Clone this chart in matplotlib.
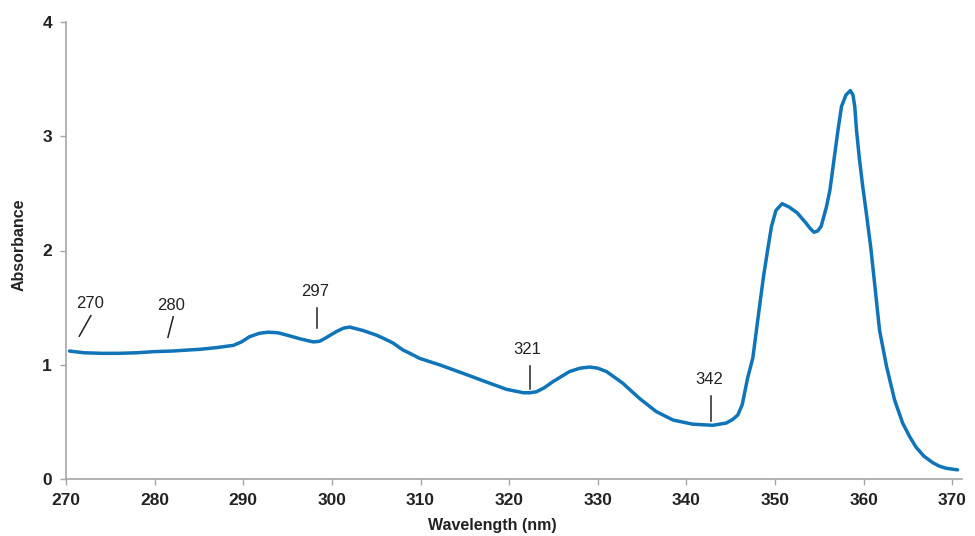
import matplotlib
matplotlib.use("Agg")
import matplotlib.pyplot as plt

wavelength = [270.4, 272, 274, 276, 278, 280, 282, 284, 285.1, 287, 288.9, 289.8, 290.7, 291.8,
              292.8, 293.9, 294.9, 296.5, 297.9, 298.6, 299.2, 300.5, 301.3, 302.0, 303.5, 305.0,
              306.0, 306.9, 308.0, 308.8, 309.9, 312.2, 314.8, 317.4, 319.7, 321.6, 322.4, 323.1,
              324.0, 324.9, 326.8, 328.0, 329.1, 330.0, 331.0, 332.8, 334.7, 336.6, 338.5, 340.7,
              343.0, 344.5, 345.2, 345.8, 346.3, 346.9, 347.5, 348.1, 348.7, 349.2, 349.6, 350.1,
              350.8, 351.6, 352.5, 353.5, 354.0, 354.4, 354.8, 355.2, 355.8, 356.2, 356.7, 357.1,
              357.5, 358.0, 358.5, 358.8, 359.0, 359.2, 359.5, 359.9, 360.3, 360.8, 361.2, 361.8,
              362.6, 363.5, 364.4, 365.2, 365.9, 366.8, 367.8, 368.5, 369.3, 370.6]
absorbance = [1.12, 1.105, 1.10, 1.10, 1.105, 1.115, 1.12, 1.13, 1.135, 1.15, 1.17, 1.20, 1.245, 1.275,
              1.285, 1.28, 1.26, 1.225, 1.20, 1.205, 1.23, 1.29, 1.32, 1.33, 1.30, 1.26,
              1.225, 1.19, 1.13, 1.10, 1.056, 0.998, 0.925, 0.85, 0.785, 0.755, 0.755, 0.764,
              0.80, 0.85, 0.94, 0.97, 0.98, 0.97, 0.94, 0.84, 0.706, 0.59, 0.516, 0.48,
              0.47, 0.49, 0.52, 0.56, 0.65, 0.88, 1.06, 1.42, 1.77, 2.02, 2.21, 2.35,
              2.41, 2.38, 2.33, 2.24, 2.19, 2.16, 2.17, 2.21, 2.38, 2.53, 2.82, 3.05,
              3.26, 3.36, 3.40, 3.36, 3.26, 3.05, 2.82, 2.56, 2.33, 2.03, 1.74, 1.30,
              0.98, 0.69, 0.49, 0.37, 0.28, 0.20, 0.143, 0.114, 0.094, 0.08]

ann_labels = ["270", "280", "297", "321", "342"]
ann_text_xy = [(272.7, 1.54), (281.8, 1.52), (298.1, 1.64), (322.0, 1.13), (342.6, 0.87)]
ann_line_start = [(271.5, 1.25), (281.5, 1.24), (298.3, 1.32), (322.3, 0.79), (342.8, 0.51)]
ann_line_end = [(272.8, 1.43), (282.1, 1.42), (298.3, 1.50), (322.3, 0.99), (342.8, 0.73)]

x_ticks = [270, 280, 290, 300, 310, 320, 330, 340, 350, 360, 370]
y_ticks = [0, 1, 2, 3, 4]

plt.rcParams['font.family'] = ['Liberation Sans', 'DejaVu Sans']

fig = plt.figure(figsize=(9.75, 5.36), dpi=100)
ax = fig.add_axes([66/975, 1 - 479/536, 896/975, (479 - 22)/536])

ax.plot(wavelength, absorbance, color='#0F74B8', lw=2.5, solid_capstyle='round', solid_joinstyle='round')

for lab, txy, s, e in zip(ann_labels, ann_text_xy, ann_line_start, ann_line_end):
    ax.plot([s[0], e[0]], [s[1], e[1]], color='#222222', lw=1.1)
    ax.text(txy[0], txy[1], lab, ha='center', va='center', fontsize=12, color='#222222')

ax.set_xlim(270, 371.1)
ax.set_ylim(0, 4)
ax.set_xticks(x_ticks)
ax.set_yticks(y_ticks)
ax.set_xticklabels([str(t) for t in x_ticks], fontweight='bold', fontsize=12.5, color='#222222')
ax.set_yticklabels([str(t) for t in y_ticks], fontweight='bold', fontsize=12.5, color='#222222')

for side in ['top', 'right']:
    ax.spines[side].set_visible(False)
for side in ['left', 'bottom']:
    ax.spines[side].set_color('#A6A6A6')
    ax.spines[side].set_linewidth(1.2)
ax.tick_params(axis='both', direction='out', length=4, width=1, color='#A6A6A6', pad=6)

ax.set_xlabel('Wavelength (nm)', fontweight='bold', fontsize=11.5, color='#222222', labelpad=5)
ax.xaxis.set_label_coords((492 - 66) / 896, -0.085)
ax.set_ylabel('Absorbance', fontweight='bold', fontsize=11.5, color='#222222')
ax.yaxis.set_label_coords(-0.0435, (479 - 245) / 457)

fig.savefig('out.png', dpi=100)
